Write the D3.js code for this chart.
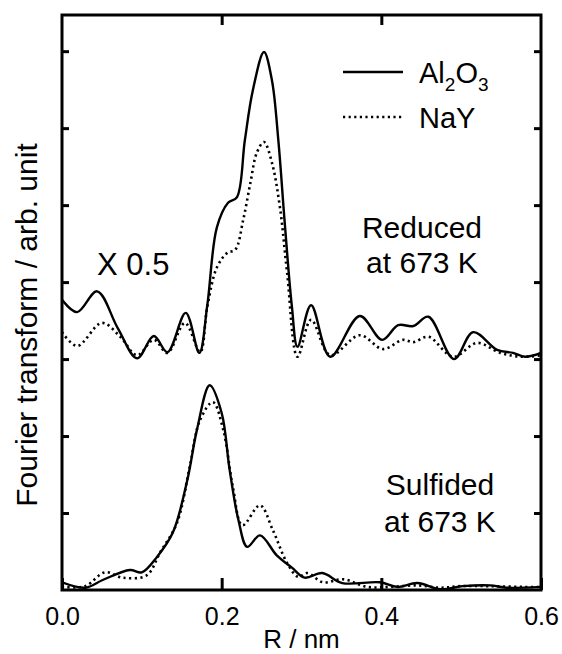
<!DOCTYPE html>
<html>
<head>
<meta charset="utf-8">
<script src="https://cdn.jsdelivr.net/npm/d3@7"></script>
<style>
  body { margin: 0; background: #fff; }
  svg text { font-family: "Liberation Sans", Arial, sans-serif; fill: #000; }
</style>
</head>
<body>
<div id="chart"></div>
<script>
// Reduced at 673 K (scaled x 0.5, offset upward)
const reducedAlR = [0, 0.019, 0.044, 0.070, 0.094, 0.115, 0.132, 0.155, 0.172, 0.182, 0.194, 0.208, 0.219, 0.229, 0.239, 0.253, 0.263, 0.271, 0.279, 0.288, 0.295, 0.312, 0.336, 0.373, 0.401, 0.421, 0.440, 0.459, 0.491, 0.515, 0.545, 0.565, 0.580, 0.600];
const reducedAlV = [3.77, 3.61, 3.88, 3.40, 3.01, 3.30, 3.09, 3.60, 3.08, 3.70, 4.71, 5.03, 5.10, 5.84, 6.49, 6.99, 6.62, 5.84, 4.77, 3.68, 3.16, 3.70, 3.03, 3.56, 3.25, 3.44, 3.43, 3.55, 3.00, 3.35, 3.12, 3.08, 3.03, 3.08];

const reducedNaR = [0, 0.019, 0.050, 0.073, 0.094, 0.115, 0.132, 0.154, 0.173, 0.182, 0.194, 0.207, 0.217, 0.227, 0.236, 0.244, 0.253, 0.263, 0.273, 0.282, 0.295, 0.312, 0.336, 0.373, 0.402, 0.427, 0.440, 0.459, 0.490, 0.520, 0.549, 0.577, 0.600];
const reducedNaV = [3.35, 3.17, 3.47, 3.29, 3.05, 3.25, 3.08, 3.47, 3.09, 3.68, 4.19, 4.38, 4.42, 4.81, 5.29, 5.68, 5.82, 5.55, 4.97, 4.12, 3.03, 3.51, 3.05, 3.31, 3.13, 3.25, 3.22, 3.29, 3.03, 3.21, 3.08, 3.03, 3.05];

// Sulfided at 673 K
const sulfidedAlR = [0, 0.029, 0.051, 0.085, 0.100, 0.119, 0.139, 0.157, 0.169, 0.185, 0.200, 0.210, 0.221, 0.232, 0.248, 0.269, 0.288, 0.304, 0.326, 0.351, 0.398, 0.420, 0.445, 0.474, 0.502, 0.536, 0.557, 0.600];
const sulfidedAlV = [0.10, 0.03, 0.13, 0.26, 0.23, 0.43, 0.75, 1.43, 2.08, 2.66, 2.30, 1.56, 0.91, 0.56, 0.71, 0.45, 0.29, 0.16, 0.22, 0.09, 0.10, 0.04, 0.09, 0.01, 0.05, 0.06, 0.03, 0.04];

const sulfidedNaR = [0, 0.029, 0.054, 0.076, 0.106, 0.123, 0.144, 0.160, 0.173, 0.189, 0.202, 0.214, 0.226, 0.248, 0.264, 0.282, 0.296, 0.307, 0.327, 0.352, 0.382, 0.411, 0.445, 0.474, 0.499, 0.536, 0.577, 0.600];
const sulfidedNaV = [0.04, 0.05, 0.23, 0.16, 0.19, 0.49, 0.87, 1.60, 2.21, 2.44, 2.08, 1.34, 0.84, 1.10, 0.78, 0.35, 0.17, 0.22, 0.10, 0.14, 0.04, 0.04, 0.06, 0.03, 0.05, 0.05, 0.04, 0.04];

const xTicks = [0, 0.2, 0.4, 0.6];
const yTicks = [1, 2, 3, 4, 5, 6, 7];

const series = [
    { r: reducedAlR, v: reducedAlV, dotted: false },
    { r: reducedNaR, v: reducedNaV, dotted: true },
    { r: sulfidedAlR, v: sulfidedAlV, dotted: false },
    { r: sulfidedNaR, v: sulfidedNaV, dotted: true }
];

const W = 562, H = 654;
const margin = { top: 15, right: 21, bottom: 64, left: 62 };
const width = W - margin.left - margin.right;
const height = H - margin.top - margin.bottom;

const svg = d3.select('#chart').append('svg')
    .attr('width', W).attr('height', H)
    .append('g')
    .attr('transform', `translate(${margin.left},${margin.top})`);

const x = d3.scaleLinear().domain([0, 0.6]).range([0, width]);
const y = d3.scaleLinear().domain([0, 7.47]).range([height, 0]);

svg.append('defs').append('clipPath').attr('id', 'clip')
    .append('rect').attr('width', width).attr('height', height);

const line = d3.line()
    .x(d => x(d[0])).y(d => y(d[1]))
    .curve(d3.curveCatmullRom.alpha(0.5));

svg.append('g').attr('clip-path', 'url(#clip)')
    .selectAll('path')
    .data(series)
    .enter()
    .append('path')
    .attr('d', s => line(s.r.map((r, i) => [r, s.v[i]])))
    .attr('fill', 'none')
    .attr('stroke', '#000')
    .attr('stroke-width', s => s.dotted ? 2.6 : 2.4)
    .attr('stroke-dasharray', s => s.dotted ? '2.2,3.4' : null);

// Axes, ticks pointing inward
const xAxis = svg.append('g').attr('transform', `translate(0,${height})`)
    .call(d3.axisBottom(x).tickValues(xTicks).tickSizeInner(-12).tickSizeOuter(0)
        .tickPadding(17).tickFormat(d3.format('.1f')));
xAxis.selectAll('text').style('font-size', '25px');

svg.append('g')
    .call(d3.axisTop(x).tickValues([0.2, 0.4]).tickSizeInner(-10).tickSizeOuter(0).tickFormat(''));
svg.append('g')
    .call(d3.axisLeft(y).tickValues(yTicks).tickSizeInner(-7).tickSizeOuter(0).tickFormat(''));
svg.append('g').attr('transform', `translate(${width},0)`)
    .call(d3.axisRight(y).tickValues(yTicks).tickSizeInner(-7).tickSizeOuter(0).tickFormat(''));

svg.selectAll('.domain').remove();
svg.selectAll('.tick line').attr('stroke', '#000').attr('stroke-width', 3);

svg.append('rect')
    .attr('width', width).attr('height', height)
    .attr('fill', 'none').attr('stroke', '#000').attr('stroke-width', 3);

// Axis labels
svg.append('text')
    .attr('x', width / 2).attr('y', height + 58)
    .attr('text-anchor', 'middle').style('font-size', '26px')
    .text('R / nm');

svg.append('text')
    .attr('transform', 'rotate(-90)')
    .attr('x', -(325 - margin.top)).attr('y', 37 - margin.left)
    .attr('text-anchor', 'middle').style('font-size', '30px')
    .text('Fourier transform / arb. unit');

// Legend
const legend = [
    { label: 'Al', dotted: false, sub: true },
    { label: 'NaY', dotted: true, sub: false }
];
legend.forEach((d, i) => {
    const ly = 57 + i * 45;
    svg.append('line')
        .attr('x1', 343 - margin.left).attr('x2', 403 - margin.left)
        .attr('y1', ly).attr('y2', ly)
        .attr('stroke', '#000')
        .attr('stroke-width', d.dotted ? 2.6 : 2.4)
        .attr('stroke-dasharray', d.dotted ? '2.2,3.4' : null);
    const t = svg.append('text')
        .attr('x', 419 - margin.left).attr('y', ly + 11)
        .style('font-size', '29px');
    if (d.sub) {
        t.append('tspan').text('Al');
        t.append('tspan').attr('dy', 8).style('font-size', '19px').text('2');
        t.append('tspan').attr('dy', -8).text('O');
        t.append('tspan').attr('dy', 8).style('font-size', '19px').text('3');
    } else {
        t.text(d.label);
    }
});

// Annotations
const notes = [
    { lines: ['Reduced', 'at 673 K'], x: 422, y: 238, gap: 35 },
    { lines: ['Sulfided', 'at 673 K'], x: 440, y: 495, gap: 37 }
];
notes.forEach(n => {
    n.lines.forEach((s, i) => {
        svg.append('text')
            .attr('x', n.x - margin.left).attr('y', n.y - margin.top + i * n.gap)
            .attr('text-anchor', 'middle').style('font-size', '30px')
            .text(s);
    });
});

svg.append('text')
    .attr('x', 97 - margin.left).attr('y', 275 - margin.top)
    .style('font-size', '31px')
    .text('X 0.5');
</script>
</body>
</html>
